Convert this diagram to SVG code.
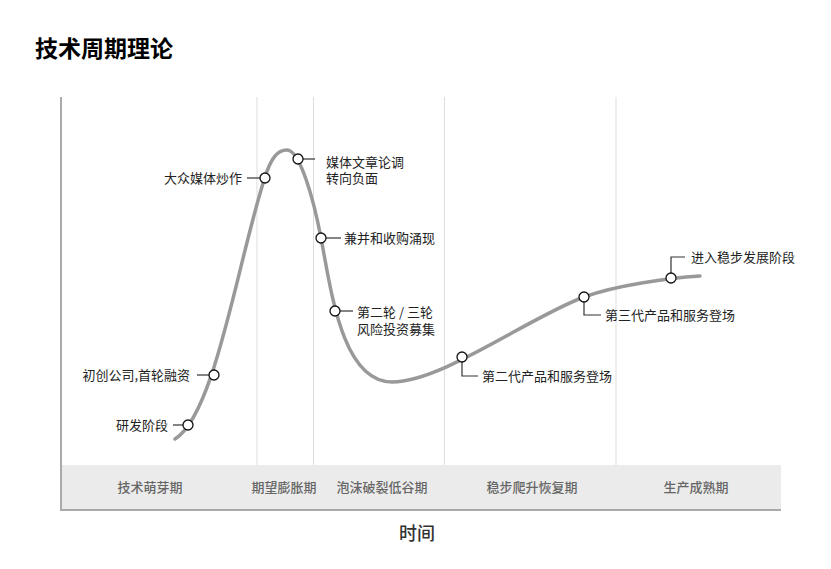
<svg xmlns="http://www.w3.org/2000/svg" width="831" height="569" viewBox="0 0 831 569">
<style>
  text { font-family: "Noto Sans CJK SC", "Noto Sans", sans-serif; }
  .title { font-size: 23px; font-weight: bold; fill: #000; }
  .lbl { font-size: 13px; fill: #222; }
  .phase { font-size: 13px; fill: #666; font-weight: 500; text-anchor: middle; }
  .axisname { font-size: 18px; fill: #333; font-weight: 500; text-anchor: middle; }
  .sep { stroke: #dddddd; stroke-width: 1; }
  .axis { stroke: #aaaaaa; stroke-width: 2; fill: none; }
  .curve { stroke: #999999; stroke-width: 3.5; fill: none; stroke-linecap: round; }
  .conn { stroke: #333; stroke-width: 1.2; fill: none; }
  .dot { fill: #fff; stroke: #111; stroke-width: 1.3; }
</style>
<rect width="831" height="569" fill="#fff"/>
<text class="title" x="35" y="57">技术周期理论</text>

<g id="chart-frame">
  <rect x="61" y="465" width="720" height="45" fill="#ebebeb"/>
  <line class="sep" x1="257" y1="97" x2="257" y2="465"/>
  <line class="sep" x1="313.5" y1="97" x2="313.5" y2="465"/>
  <line class="sep" x1="444.5" y1="97" x2="444.5" y2="465"/>
  <line class="sep" x1="616" y1="97" x2="616" y2="465"/>
  <polyline class="axis" points="61,97 61,510 781,510"/>
</g>

<g id="phases">
  <text class="phase" x="150" y="492">技术萌芽期</text>
  <text class="phase" x="284" y="492">期望膨胀期</text>
  <text class="phase" x="382" y="492">泡沫破裂低谷期</text>
  <text class="phase" x="532" y="492">稳步爬升恢复期</text>
  <text class="phase" x="696" y="492">生产成熟期</text>
  <text class="axisname" x="417" y="540">时间</text>
</g>

<g id="curve">
  <path class="curve" d="M175,439 C215,415 238,260 265,177 C271,158.5 277,150 287,150 C300,150 313.8,200 321,238 C331,290 342,382 392,382 C442,382 527.8,317.9 584,297 C616.8,284.8 670,278 700,276"/>
</g>

<g id="connectors">
  <line class="conn" x1="173" y1="425" x2="183" y2="425"/>
  <line class="conn" x1="197" y1="375" x2="209" y2="375"/>
  <line class="conn" x1="247" y1="178" x2="260" y2="178"/>
  <line class="conn" x1="303" y1="159" x2="315" y2="159"/>
  <line class="conn" x1="326" y1="238" x2="341" y2="238"/>
  <line class="conn" x1="340" y1="311" x2="353" y2="311"/>
  <polyline class="conn" points="462,362 462,376 478,376"/>
  <polyline class="conn" points="584,302 584,315 601,315"/>
  <polyline class="conn" points="671,273 671,257 685,257"/>
</g>

<g id="n-yanfa">
  <circle class="dot" cx="188" cy="425" r="5"/>
  <text class="lbl" x="168" y="430" text-anchor="end">研发阶段</text>
</g>
<g id="n-chuchuang">
  <circle class="dot" cx="214" cy="375" r="5"/>
  <text class="lbl" x="190" y="380" text-anchor="end">初创公司,首轮融资</text>
</g>
<g id="n-dazhong">
  <circle class="dot" cx="265" cy="178" r="5"/>
  <text class="lbl" x="242" y="183" text-anchor="end">大众媒体炒作</text>
</g>
<g id="n-meiti">
  <circle class="dot" cx="298" cy="159" r="5"/>
  <text class="lbl" x="326" y="166.5">媒体文章论调<tspan x="326" dy="16.5">转向负面</tspan></text>
</g>
<g id="n-jianbing">
  <circle class="dot" cx="321" cy="238" r="5"/>
  <text class="lbl" x="344" y="243">兼并和收购涌现</text>
</g>
<g id="n-fengxian">
  <circle class="dot" cx="335" cy="311" r="5"/>
  <text class="lbl" x="357" y="317">第二轮 / 三轮<tspan x="357" dy="17">风险投资募集</tspan></text>
</g>
<g id="n-erdai">
  <circle class="dot" cx="462" cy="357" r="5"/>
  <text class="lbl" x="482" y="381">第二代产品和服务登场</text>
</g>
<g id="n-sandai">
  <circle class="dot" cx="584" cy="297" r="5"/>
  <text class="lbl" x="605" y="320">第三代产品和服务登场</text>
</g>
<g id="n-wenbu">
  <circle class="dot" cx="671" cy="278" r="5"/>
  <text class="lbl" x="691" y="262">进入稳步发展阶段</text>
</g>
</svg>
